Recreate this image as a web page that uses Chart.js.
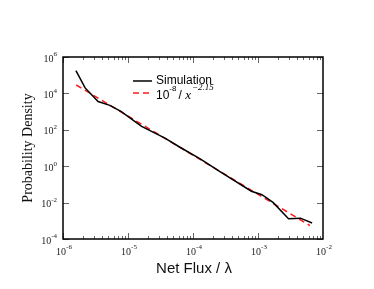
<!DOCTYPE html>
<html>
<head>
<meta charset="utf-8">
<script src="https://cdn.jsdelivr.net/npm/chart.js@4.4.1/dist/chart.umd.min.js"></script>
<style>
    html, body { margin: 0; padding: 0; background: #fff; }
    #wrap { width: 374px; height: 289px; }
</style>
</head>
<body>
<div id="wrap"><canvas id="fluxChart" width="374" height="289"></canvas></div>
<script>
// values
const simFlux = [1.58e-6, 2.19e-6, 3.47e-6, 5.25e-6, 7.9e-6, 1.07e-5, 1.62e-5, 3.7e-5, 6.3e-5, 1.29e-4, 2.6e-4, 7.9e-4, 1.15e-3, 1.7e-3, 2.95e-3, 4.5e-3, 6.8e-3];
const simDensity = [1.8e5, 2.0e4, 3.6e3, 2.2e3, 1.0e3, 4.5e2, 1.55e2, 3.5e1, 1.1e1, 2.5, 5.0e-1, 4.2e-2, 2.7e-2, 1.02e-2, 1.3e-3, 1.4e-3, 7.6e-4];

const fitFlux = [1.6e-6, 6.3e-3];
const fitDensity = [2.9e4, 5.5e-4];

const xTicks = [-6, -5, -4, -3, -2];
const yTicks = [6, 4, 2, 0, -2, -4];

const serif = '"Liberation Serif", "DejaVu Serif", serif';
const sans = '"Liberation Sans", Arial, sans-serif';

const toPoints = (xs, ys) => xs.map((x, i) => ({ x: x, y: ys[i] }));

// text with a raised exponent
const drawPower = (ctx, base, exp, x, y, align, size) => {
    ctx.font = `${size}px ${serif}`;
    const bw = ctx.measureText(base).width;
    ctx.font = `${size * 0.7}px ${serif}`;
    const ew = ctx.measureText(exp).width;
    let left = x;
    if (align === 'right') left = x - bw - ew;
    if (align === 'center') left = x - (bw + ew) / 2;
    ctx.textAlign = 'left';
    ctx.textBaseline = 'middle';
    ctx.font = `${size}px ${serif}`;
    ctx.fillText(base, left, y);
    ctx.font = `${size * 0.7}px ${serif}`;
    ctx.fillText(exp, left + bw, y - size * 0.45);
};

const framePlugin = {
    id: 'frame',
    afterDraw(chart) {
        const { ctx, chartArea: a, scales } = chart;
        const xs = scales.x, ys = scales.y;
        ctx.save();

        // ticks inward on all four sides
        ctx.strokeStyle = '#666';
        ctx.lineWidth = 1;
        ctx.beginPath();
        for (let d = -6; d < -2; d++) {
            for (let m = 1; m < 10; m++) {
                const px = Math.round(xs.getPixelForValue(m * Math.pow(10, d))) + 0.5;
                const len = m === 1 ? 6 : 3;
                ctx.moveTo(px, a.bottom); ctx.lineTo(px, a.bottom - len);
                ctx.moveTo(px, a.top); ctx.lineTo(px, a.top + len);
            }
        }
        yTicks.forEach(e => {
            const py = Math.round(ys.getPixelForValue(Math.pow(10, e))) + 0.5;
            ctx.moveTo(a.left, py); ctx.lineTo(a.left + 6, py);
            ctx.moveTo(a.right, py); ctx.lineTo(a.right - 6, py);
        });
        ctx.stroke();

        // box
        ctx.strokeStyle = '#000';
        ctx.lineWidth = 1.5;
        ctx.strokeRect(a.left, a.top, a.right - a.left, a.bottom - a.top);

        // tick labels
        ctx.fillStyle = '#222';
        yTicks.forEach(e => {
            const py = ys.getPixelForValue(Math.pow(10, e));
            drawPower(ctx, '10', String(e), a.left - 6, py + 2, 'right', 10);
        });
        xTicks.forEach(e => {
            const px = xs.getPixelForValue(Math.pow(10, e));
            drawPower(ctx, '10', String(e), px + 1, a.bottom + 13, 'center', 10);
        });

        // axis titles
        ctx.fillStyle = '#111';
        ctx.font = `15px ${sans}`;
        ctx.textAlign = 'center';
        ctx.textBaseline = 'middle';
        ctx.fillText('Net Flux / λ', 194, 269);

        ctx.save();
        ctx.translate(28, 148);
        ctx.rotate(-Math.PI / 2);
        ctx.font = `14px ${serif}`;
        ctx.fillText('Probability Density', 0, 0);
        ctx.restore();

        // legend
        ctx.lineWidth = 1.5;
        ctx.strokeStyle = '#000';
        ctx.beginPath();
        ctx.moveTo(133, 81); ctx.lineTo(152, 81);
        ctx.stroke();
        ctx.strokeStyle = '#ff1a1a';
        ctx.setLineDash([6, 4]);
        ctx.beginPath();
        ctx.moveTo(133, 93); ctx.lineTo(153, 93);
        ctx.stroke();
        ctx.setLineDash([]);

        ctx.fillStyle = '#000';
        ctx.font = `12px ${sans}`;
        ctx.textAlign = 'left';
        ctx.textBaseline = 'middle';
        ctx.fillText('Simulation', 156, 81);
        ctx.fillText('10', 156, 96);
        const w10 = ctx.measureText('10').width;
        ctx.font = `8px ${sans}`;
        ctx.fillText('-8', 156 + w10, 89);
        const w8 = ctx.measureText('-8').width;
        let cx = 156 + w10 + w8 + 2;
        ctx.font = `12px ${sans}`;
        ctx.fillText('/ ', cx, 96);
        cx += ctx.measureText('/ ').width;
        ctx.font = `italic 13px ${serif}`;
        ctx.fillText('x', cx, 96);
        cx += ctx.measureText('x').width;
        ctx.font = `italic 9px ${serif}`;
        ctx.fillText('\u22122.15', cx + 1, 88);

        ctx.restore();
    }
};

new Chart(document.getElementById('fluxChart'), {
    type: 'scatter',
    data: {
        datasets: [{
            label: 'Simulation',
            data: toPoints(simFlux, simDensity),
            showLine: true,
            borderColor: '#000',
            borderWidth: 1.5,
            pointRadius: 0,
            tension: 0
        }, {
            label: 'fit',
            data: toPoints(fitFlux, fitDensity),
            showLine: true,
            borderColor: '#ff1a1a',
            borderWidth: 1.5,
            borderDash: [6, 4],
            pointRadius: 0,
            tension: 0
        }]
    },
    options: {
        responsive: false,
        animation: false,
        layout: { padding: { left: 63, top: 57, right: 51, bottom: 50 } },
        plugins: {
            legend: { display: false },
            tooltip: { enabled: false }
        },
        scales: {
            x: {
                type: 'logarithmic',
                display: false,
                min: 1e-6,
                max: 1e-2
            },
            y: {
                type: 'logarithmic',
                display: false,
                min: 1e-4,
                max: 1e6
            }
        }
    },
    plugins: [framePlugin]
});
</script>
</body>
</html>
